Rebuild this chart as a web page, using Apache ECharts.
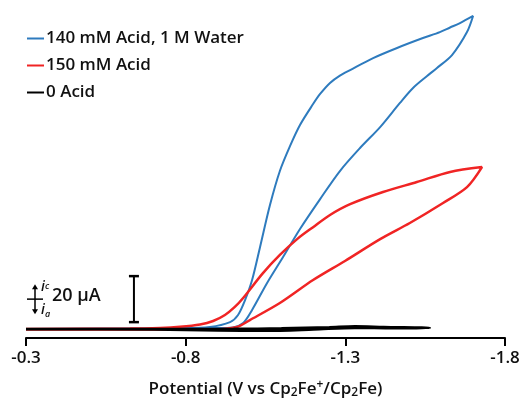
<!DOCTYPE html>
<html>
<head>
    <meta charset="utf-8">
    <title>CV</title>
    <script src="https://cdn.jsdelivr.net/npm/echarts@6/dist/echarts.min.js"></script>
    <style>
        html, body { margin: 0; padding: 0; background: #fff; }
        #main { width: 527px; height: 399px; }
    </style>
</head>
<body>
<div id="main"></div>
<script>
    // potential (V vs Fc+/Fc), current (uA, cathodic up)
    var seriesNames = ['140 mM Acid, 1 M Water', '150 mM Acid', '0 Acid'];
    var xTicks = [-1.8, -1.3, -0.8, -0.3];

    var water140 = [
        [-0.300, 0], [-0.532, 0.2], [-0.782, 0.3], [-0.892, 0.4], [-0.948, 0.7], [-0.980, 2.6],
        [-1.008, 8.3], [-1.055, 20.0], [-1.105, 31.3], [-1.158, 43.5], [-1.221, 56.5], [-1.283, 68.7],
        [-1.346, 78.7], [-1.409, 87.8], [-1.471, 98.3], [-1.512, 104.8], [-1.556, 110.0], [-1.587, 113.5],
        [-1.634, 119.1], [-1.681, 129.1], [-1.700, 136.1],
        [-1.659, 133.0], [-1.628, 131.1], [-1.596, 129.1], [-1.543, 126.5], [-1.462, 122.2], [-1.387, 117.8],
        [-1.315, 112.6], [-1.283, 110.2], [-1.252, 107.0], [-1.221, 102.2], [-1.199, 97.8], [-1.158, 88.7],
        [-1.127, 79.6], [-1.095, 68.7], [-1.064, 53.9], [-1.033, 35.7], [-1.008, 21.3], [-0.986, 12.6],
        [-0.964, 6.1], [-0.939, 3.0], [-0.876, 0.9], [-0.782, 0.4], [-0.532, 0.2], [-0.300, 0]
    ];
    var acid150 = [
        [-0.300, 0], [-0.626, 0.2], [-0.720, 0.5], [-0.782, 1.0], [-0.845, 2.0], [-0.886, 3.5],
        [-0.923, 6.1], [-0.954, 9.6], [-0.980, 13.5], [-1.042, 24.3], [-1.095, 32.2],
        [-1.149, 39.1], [-1.199, 44.3], [-1.252, 49.6], [-1.315, 54.3], [-1.418, 59.6], [-1.524, 63.9],
        [-1.628, 68.3], [-1.728, 70.4],
        [-1.681, 61.7], [-1.606, 54.8], [-1.502, 46.1], [-1.409, 39.1], [-1.299, 29.6], [-1.199, 21.3],
        [-1.095, 11.3], [-1.001, 3.9], [-0.961, 0.9], [-0.886, -0.2], [-0.626, -0.2], [-0.300, -0.2]
    ];
    var acid0 = [
        [-0.300, 0], [-0.700, 0], [-0.950, 0.1], [-1.100, 0.3], [-1.250, 0.8], [-1.330, 1.2],
        [-1.420, 0.9], [-1.565, 0.5], [-1.450, 0.3], [-1.330, 0.5], [-1.200, -0.2], [-1.050, -0.8],
        [-0.900, -0.6], [-0.700, -0.2], [-0.300, -0.1]
    ];

    var fontFam = '"Open Sans", "Liberation Sans", sans-serif';
    var chart = echarts.init(document.getElementById('main'), null, {renderer: 'canvas'});

    var option = {
        animation: false,
        backgroundColor: '#fff',
        grid: {left: 26, right: 22, top: 10, bottom: 61, outerBoundsMode: 'none', containLabel: false},
        legend: {
            data: seriesNames,
            orient: 'vertical',
            left: 22,
            top: 25,
            icon: 'rect',
            itemWidth: 17,
            itemHeight: 2,
            itemGap: 10,
            textStyle: {
                fontFamily: fontFam, fontSize: 17, fontWeight: 600, color: '#111',
                lineHeight: 16, padding: [0, 0, 0, -3]
            }
        },
        xAxis: {
            type: 'value',
            inverse: true,
            min: -1.8,
            max: -0.3,
            interval: 0.5,
            splitLine: {show: false},
            axisLine: {onZero: false, lineStyle: {color: '#000', width: 2}},
            axisTick: {length: 8, lineStyle: {color: '#000', width: 2}},
            axisLabel: {
                margin: 12,
                fontFamily: fontFam, fontSize: 17, fontWeight: 600, color: '#111',
                formatter: function (v) { return v.toFixed(1); }
            },
            name: 'Potential (V vs Cp{sub|2}Fe{sup|+}/Cp{sub|2}Fe)',
            nameLocation: 'middle',
            nameGap: 41,
            nameTextStyle: {
                fontFamily: fontFam, fontSize: 17, fontWeight: 600, color: '#111',
                rich: {
                    sub: {fontFamily: fontFam, fontSize: 12, fontWeight: 600, color: '#111', padding: [8, 0, 0, 0]},
                    sup: {fontFamily: fontFam, fontSize: 12, fontWeight: 600, color: '#111', padding: [0, 0, 8, 0]}
                }
            }
        },
        yAxis: {
            type: 'value',
            min: -3.9,
            max: 138.7,
            show: false
        },
        series: [
            {
                name: seriesNames[0], type: 'line', data: water140, showSymbol: false, smooth: 0.3,
                color: '#2E7BBE', lineStyle: {width: 2, color: '#2E7BBE'}
            },
            {
                name: seriesNames[1], type: 'line', data: acid150, showSymbol: false, smooth: 0.3,
                color: '#F02424', lineStyle: {width: 2.5, color: '#F02424'}
            },
            {
                name: seriesNames[2], type: 'line', data: acid0, showSymbol: false, smooth: 0.3,
                color: '#000', lineStyle: {width: 2.5, color: '#000'}
            }
        ]
    };
    chart.setOption(option);

    // 20 uA scale bar, placed through the axes
    var barX = -0.638, barLo = 3, barHi = 23;
    var pLo = chart.convertToPixel({gridIndex: 0}, [barX, barLo]);
    var pHi = chart.convertToPixel({gridIndex: 0}, [barX, barHi]);
    var midY = (pLo[1] + pHi[1]) / 2;
    var ax = 35;

    chart.setOption({
        graphic: [
            {type: 'line', shape: {x1: pLo[0], y1: pLo[1], x2: pHi[0], y2: pHi[1]}, style: {stroke: '#000', lineWidth: 2}},
            {type: 'line', shape: {x1: pLo[0] - 5, y1: pLo[1], x2: pLo[0] + 5, y2: pLo[1]}, style: {stroke: '#000', lineWidth: 2.5}},
            {type: 'line', shape: {x1: pHi[0] - 5, y1: pHi[1], x2: pHi[0] + 5, y2: pHi[1]}, style: {stroke: '#000', lineWidth: 2.5}},
            {type: 'text', left: 52, top: midY - 12, style: {text: '20 µA', font: '600 18px ' + fontFam, fill: '#111'}},
            // ic / ia direction key
            {type: 'line', shape: {x1: ax - 8, y1: midY, x2: ax + 8, y2: midY}, style: {stroke: '#000', lineWidth: 1.5}},
            {type: 'line', shape: {x1: ax, y1: midY - 13, x2: ax, y2: midY + 13}, style: {stroke: '#000', lineWidth: 1.5}},
            {type: 'polygon', shape: {points: [[ax - 3, midY - 10], [ax + 3, midY - 10], [ax, midY - 15]]}, style: {fill: '#000'}},
            {type: 'polygon', shape: {points: [[ax - 3, midY + 10], [ax + 3, midY + 10], [ax, midY + 15]]}, style: {fill: '#000'}},
            {type: 'text', left: ax + 6, top: midY - 19, style: {text: 'i', font: 'italic 600 14px ' + fontFam, fill: '#111'}},
            {type: 'text', left: ax + 10, top: midY - 17, style: {text: 'c', font: 'italic 600 9px ' + fontFam, fill: '#111'}},
            {type: 'text', left: ax + 6, top: midY + 4, style: {text: 'i', font: 'italic 600 14px ' + fontFam, fill: '#111'}},
            {type: 'text', left: ax + 10, top: midY + 11, style: {text: 'a', font: 'italic 600 9px ' + fontFam, fill: '#111'}}
        ]
    });
</script>
</body>
</html>
